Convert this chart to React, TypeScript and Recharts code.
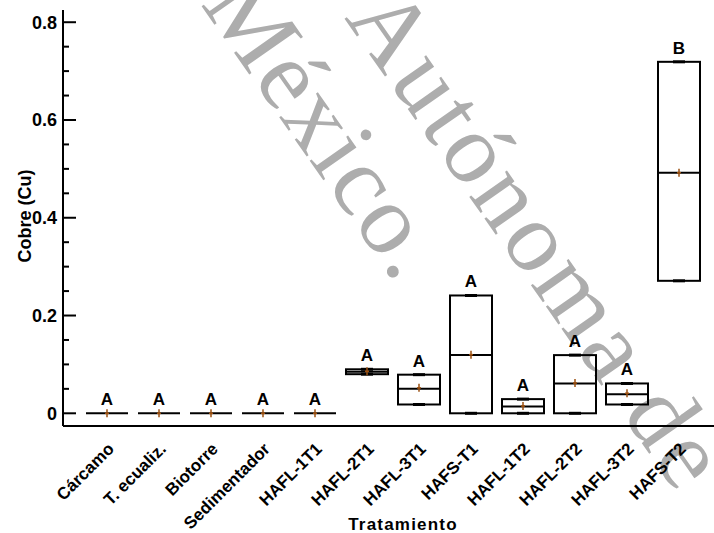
import { ComposedChart, Bar, Scatter, XAxis, YAxis, Label } from 'recharts';

const CATEGORIES = [
  'Cárcamo', 'T. ecualiz.', 'Biotorre', 'Sedimentador', 'HAFL-1T1', 'HAFL-2T1',
  'HAFL-3T1', 'HAFS-T1', 'HAFL-1T2', 'HAFL-2T2', 'HAFL-3T2', 'HAFS-T2',
];
const MIN_VALUES = [0, 0, 0, 0, 0, 0.08, 0.018, 0, 0, 0, 0.018, 0.271];
const MAX_VALUES = [0, 0, 0, 0, 0, 0.09, 0.079, 0.241, 0.029, 0.119, 0.061, 0.719];
const MEDIAN_VALUES = [0, 0, 0, 0, 0, 0.085, 0.05, 0.119, 0.014, 0.061, 0.039, 0.492];
const MEAN_VALUES = [0, 0, 0, 0, 0, 0.086, 0.052, 0.12, 0.015, 0.062, 0.041, 0.492];
const LETTERS = ['A', 'A', 'A', 'A', 'A', 'A', 'A', 'A', 'A', 'A', 'A', 'B'];

const Y_TICKS = [0, 0.05, 0.1, 0.15, 0.2, 0.25, 0.3, 0.35, 0.4, 0.45, 0.5, 0.55, 0.6, 0.65, 0.7, 0.75, 0.8];
const MAJOR_TICKS = [0, 0.2, 0.4, 0.6, 0.8];

const WIDTH = 714;
const HEIGHT = 533;
const AXIS_X = 63;
const FONT = '"Liberation Sans", Arial, sans-serif';
const MEAN_COLOR = '#9B4F0F';

const data = CATEGORIES.map((name, i) => ({
  name,
  range: [MIN_VALUES[i], MAX_VALUES[i]],
  max: MAX_VALUES[i],
  median: MEDIAN_VALUES[i],
  mean: MEAN_VALUES[i],
  letter: LETTERS[i],
}));

// box outline with short thick caps at min / max
const BoxShape = (props: any) => {
  const { x, y, width, height } = props;
  if (!height || Math.abs(height) < 0.5) return <g />;
  const top = Math.min(y, y + height);
  const h = Math.abs(height);
  const cx = x + width / 2;
  return (
    <g>
      <rect x={x} y={top} width={width} height={h} fill="none" stroke="#000" strokeWidth={2} />
      <line x1={cx - 6} x2={cx + 6} y1={top} y2={top} stroke="#000" strokeWidth={3} />
      <line x1={cx - 6} x2={cx + 6} y1={top + h} y2={top + h} stroke="#000" strokeWidth={3} />
    </g>
  );
};

const MedianShape = ({ cx, cy }: any) => (
  <line x1={cx - 21} x2={cx + 21} y1={cy} y2={cy} stroke="#000" strokeWidth={2} />
);

const MeanShape = ({ cx, cy }: any) => (
  <g stroke={MEAN_COLOR} strokeWidth={1.5}>
    <line x1={cx} x2={cx} y1={cy - 4} y2={cy + 4} />
    <line x1={cx - 2} x2={cx + 2} y1={cy} y2={cy} />
  </g>
);

const LetterShape = ({ cx, cy, payload }: any) => (
  <text x={cx} y={cy - 8} textAnchor="middle" fontFamily={FONT} fontWeight="bold" fontSize={17} fill="#000">
    {payload.letter}
  </text>
);

const YTick = ({ y, payload }: any) => {
  const major = MAJOR_TICKS.includes(payload.value);
  return (
    <g>
      <line x1={AXIS_X} x2={AXIS_X + (major ? 13 : 6)} y1={y} y2={y} stroke="#000" strokeWidth={2} />
      {major && (
        <text x={AXIS_X - 6} y={y} dy="0.36em" textAnchor="end" fontFamily={FONT} fontWeight="bold" fontSize={18} fill="#000">
          {String(payload.value)}
        </text>
      )}
    </g>
  );
};

const XTick = ({ x, y, payload }: any) => (
  <text
    transform={`translate(${x + 8},${y + 24}) rotate(-45)`}
    textAnchor="end"
    fontFamily={FONT}
    fontWeight="bold"
    fontSize={17}
    fill="#000"
  >
    {payload.value}
  </text>
);

const Watermark = () => (
  <svg width={WIDTH} height={HEIGHT} style={{ position: 'absolute', left: 0, top: 0 }}>
    <g fontFamily='"Liberation Serif", "Times New Roman", serif' fontSize={100} fill="#ADADAD">
      <text transform="translate(344,18) rotate(55)" letterSpacing={4}>Autónoma de</text>
      <text transform="translate(200,4) rotate(55)" letterSpacing={2}>México.</text>
    </g>
  </svg>
);

export default function App() {
  return (
    <div style={{ position: 'absolute', left: 0, top: 0, width: WIDTH, height: HEIGHT, background: '#fff' }}>
      <Watermark />
      <div style={{ position: 'absolute', left: 0, top: 0 }}>
        <ComposedChart
          width={WIDTH}
          height={HEIGHT}
          data={data}
          margin={{ top: 10, right: 0, bottom: 0, left: 0 }}
        >
          <XAxis
            dataKey="name"
            type="category"
            interval={0}
            padding={{ left: 18, right: 9 }}
            height={107}
            tickLine={false}
            tickSize={0}
            tickMargin={0}
            axisLine={{ stroke: '#000', strokeWidth: 2 }}
            tick={<XTick />}
          >
            <Label
              content={() => (
                <text
                  x={403}
                  y={530}
                  textAnchor="middle"
                  fontFamily={FONT}
                  fontWeight="bold"
                  fontSize={17}
                  letterSpacing={1.2}
                  fill="#000"
                >
                  Tratamiento
                </text>
              )}
            />
          </XAxis>
          <YAxis
            type="number"
            domain={[-0.026, 0.825]}
            ticks={Y_TICKS}
            interval={0}
            allowDataOverflow
            width={AXIS_X}
            tickLine={false}
            axisLine={{ stroke: '#000', strokeWidth: 2 }}
            tick={<YTick />}
          >
            <Label
              content={() => (
                <text
                  transform="translate(31,216) rotate(-90)"
                  textAnchor="middle"
                  fontFamily={FONT}
                  fontWeight="bold"
                  fontSize={18}
                  fill="#000"
                >
                  Cobre (Cu)
                </text>
              )}
            />
          </YAxis>
          <Bar dataKey="range" barSize={42} shape={<BoxShape />} isAnimationActive={false} />
          <Scatter dataKey="median" shape={<MedianShape />} isAnimationActive={false} />
          <Scatter dataKey="mean" shape={<MeanShape />} isAnimationActive={false} />
          <Scatter dataKey="max" shape={<LetterShape />} isAnimationActive={false} />
        </ComposedChart>
      </div>
    </div>
  );
}
